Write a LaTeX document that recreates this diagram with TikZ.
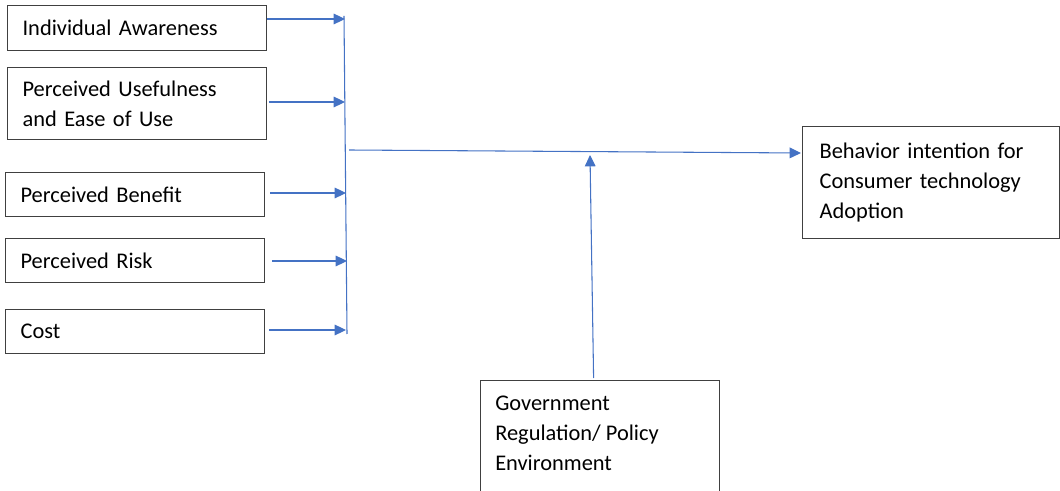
\documentclass[tikz,border=0pt]{standalone}
\usepackage{fontspec}
\setmainfont{Carlito}
\usetikzlibrary{arrows.meta,calc}
\definecolor{linkblue}{HTML}{4472C4}
\definecolor{edgegray}{HTML}{404040}
\begin{document}
\begin{tikzpicture}[x=0.75pt,y=-0.75pt,
  factor/.style={draw=edgegray,line width=0.9pt,rectangle,anchor=north west,
    align=left,inner xsep=11.25pt,inner ysep=0pt,
    font=\fontsize{16.8}{22.5}\selectfont},
  conn/.style={draw=linkblue,line width=0.8pt,-{Triangle[length=8.5pt,width=8pt]}},
  rail/.style={draw=linkblue,line width=0.8pt}]
\useasboundingbox (0,0) rectangle (1060,491);

% input factors
\node[factor,text width=171.75pt,minimum height=33.75pt] (aware) at (7,5) {Individual Awareness};
\node[factor,text width=171.75pt,minimum height=54pt] (useful) at (7,67) {Perceived Usefulness\\and Ease of Use};
\node[factor,text width=171.75pt,minimum height=33pt] (benefit) at (5,172) {Perceived Benefit};
\node[factor,text width=171.75pt,minimum height=33pt] (risk) at (5,238) {Perceived Risk};
\node[factor,text width=171.75pt,minimum height=33pt] (cost) at (5,309) {Cost};

% outcome
\node[factor,text width=167pt,inner xsep=12.75pt,minimum height=84pt] (intent) at (802,126)
  {Behavior intention for\\Consumer technology\\Adoption};

% moderator (box runs past the lower edge)
\node[draw=edgegray,line width=0.9pt,rectangle,anchor=north west,
  minimum width=179.25pt,minimum height=90pt] (gov) at (480,380) {};
\node[anchor=north west,align=left,inner sep=0pt,
  font=\fontsize{16.8}{22.5}\selectfont] (govtext) at (495,396)
  {Government\\Regulation/ Policy\\Environment};

% collecting rail
\coordinate (railtop) at (344,16);
\coordinate (railbot) at (347,334);
\draw[rail] (railtop) -- (railbot);

\coordinate (j1) at (345,19);
\coordinate (j2) at (345,102);
\coordinate (j3) at (346,193);
\coordinate (j4) at (347,261);
\coordinate (j5) at (346,330);

\draw[conn] (aware.east |- j1) -- (j1);
\draw[conn] ($(useful.east |- j2)+(2,0)$) -- (j2);
\draw[conn] ($(benefit.east |- j3)+(5,0)$) -- (j3);
\draw[conn] ($(risk.east |- j4)+(7,0)$) -- (j4);
\draw[conn] ($(cost.east |- j5)+(4,0)$) -- (j5);

% main path to the outcome
\coordinate (hstart) at (349,150);
\draw[conn] (hstart) -- ($(intent.north west)+(-1,27)$);

% moderating arrow
\coordinate (modtip) at (590,155);
\draw[conn] ($(gov.north)+(-6.5,-2)$) -- (modtip);
\end{tikzpicture}
\end{document}
